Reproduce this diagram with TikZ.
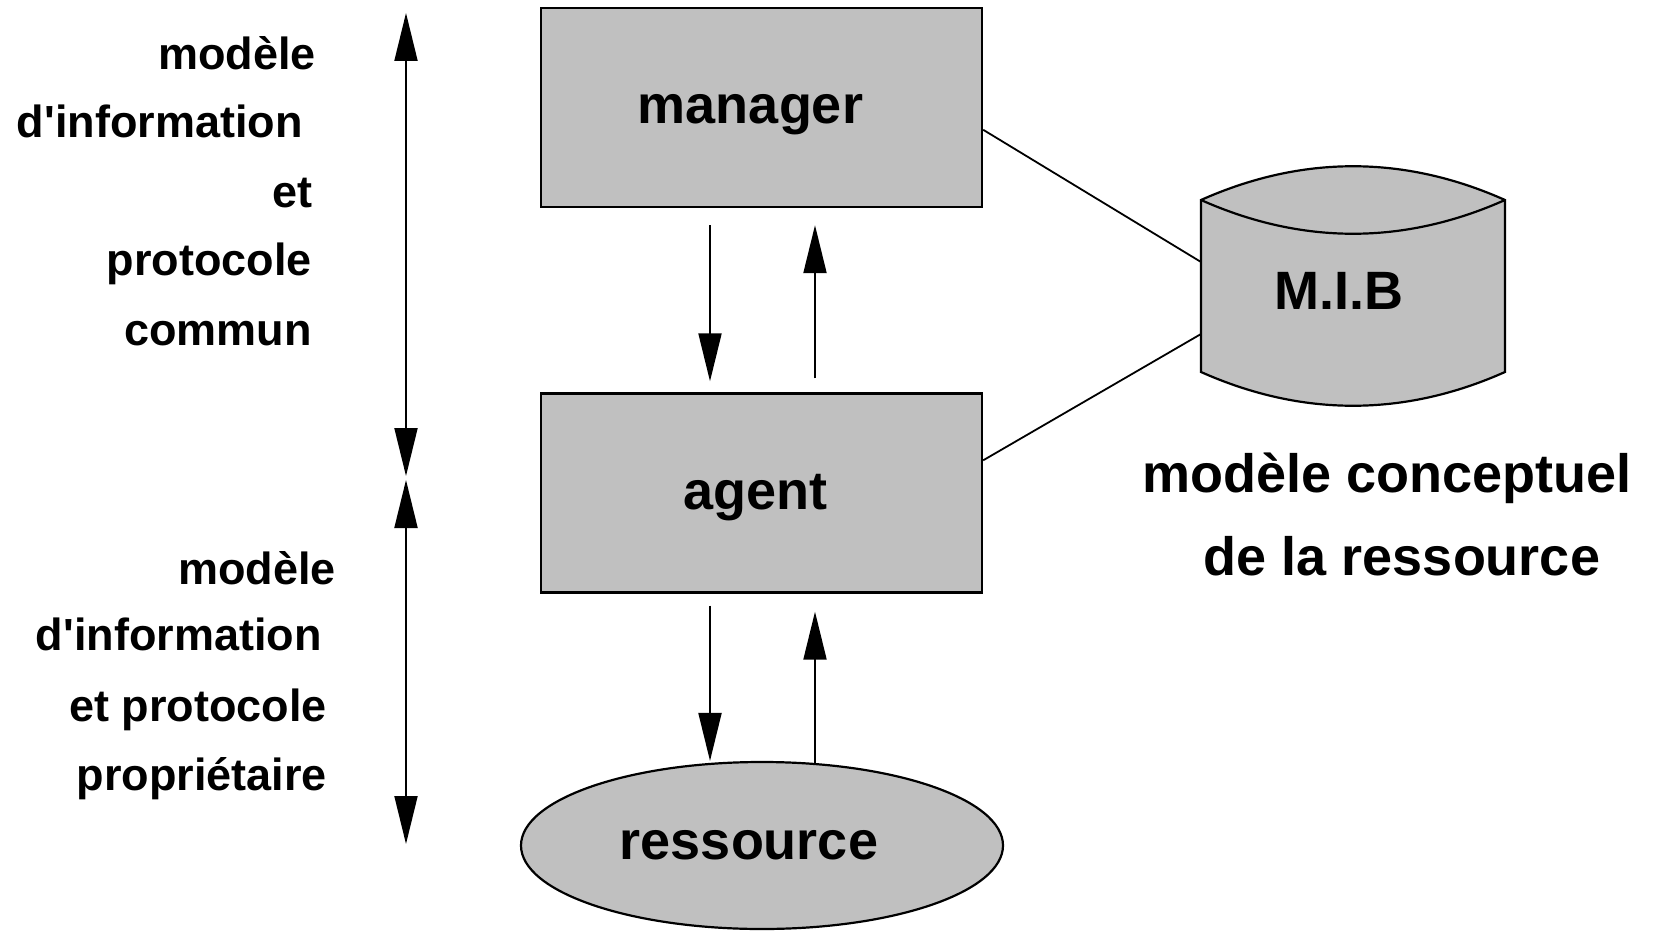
\documentclass[tikz,border=0pt]{standalone}
\usepackage{fontspec}
\setmainfont{Liberation Sans}
\usetikzlibrary{arrows.meta,calc,shapes.geometric}
\definecolor{boxgray}{RGB}{192,192,192}
\begin{document}
\begin{tikzpicture}[x=0.5pt,y=-0.5pt,
  box/.style={draw=black,line width=1.2pt,fill=boxgray,rectangle,minimum width=220.5pt,minimum height=99.5pt,inner sep=0pt},
  resnode/.style={draw=black,line width=1.1pt,fill=boxgray,ellipse,minimum width=241pt,minimum height=83.5pt,inner sep=0pt},
  boxtext/.style={inner sep=0pt,font=\fontsize{27}{32}\bfseries\selectfont},
  bigtext/.style={anchor=base,inner sep=0pt,font=\fontsize{27}{32}\bfseries\selectfont},
  sidetext/.style={anchor=base east,inner sep=0pt,font=\fontsize{22.5}{27}\bfseries\selectfont},
  arr/.style={line width=1pt,-{Triangle[length=24pt,width=11.5pt]}},
  dblarr/.style={line width=1pt,{Triangle[length=24pt,width=11.5pt]}-{Triangle[length=24pt,width=11.5pt]}},
  link/.style={line width=0.9pt}
]
\useasboundingbox (0,0) rectangle (1655,931);
\fill[white] (0,0) rectangle (1655,931);

% boxes
\node[box] (manager) at (761.5,107.5) {};
\node[box] (agent) at (761.5,493) {};
\node[resnode] (ressource) at (762,845.5) {};
\node[boxtext] (managertxt) at ($(manager.center)+(-11,7)$) {manager};
\node[boxtext] (agenttxt) at ($(agent.center)+(-6,5)$) {agent};
\node[boxtext] (ressourcetxt) at ($(ressource.center)+(-13,0)$) {ressource};

% cylinder
\draw[line width=1.1pt,fill=boxgray]
  (1201,200) .. controls (1302,155) and (1404,155) .. (1505,200)
  -- (1505,372) .. controls (1404,417) and (1302,417) .. (1201,372) -- cycle;
\draw[line width=1.1pt] (1201,200) .. controls (1302,245) and (1404,245) .. (1505,200);
\node[bigtext] (mib) at (1339,309) {M.I.B};
\coordinate (cylA) at (1201,262);
\coordinate (cylB) at (1201,334);

% links to MIB
\draw[link] ($(manager.north east)+(0,123)$) -- (cylA);
\draw[link] ($(agent.north east)+(0,68)$) -- (cylB);

% vertical arrows
\coordinate (dx) at (710,0);
\coordinate (ux) at (815,0);
\draw[arr,shorten <=8.5pt,shorten >=5.5pt] (manager.south -| dx) -- (agent.north -| dx);
\draw[arr,shorten <=7pt,shorten >=8.5pt] (agent.north -| ux) -- (manager.south -| ux);
\draw[arr,shorten <=6pt] (agent.south -| dx) -- (ressource.north -| dx);
\coordinate (rtop) at (815,764);
\draw[arr,shorten >=9pt] (rtop) -- (agent.south -| ux);

% left double arrows
\coordinate (l1) at (406,13);
\coordinate (l2) at (406,476);
\coordinate (l3) at (406,480);
\coordinate (l4) at (406,844);
\draw[dblarr] (l1) -- (l2);
\draw[dblarr] (l3) -- (l4);

% left labels upper
\node[sidetext] (u1) at (316,70) {modèle};
\node[sidetext] (u2) at (303,138) {d\textquotesingle information};
\node[sidetext] (u3) at (313,207) {et};
\node[sidetext] (u4) at (312,275) {protocole};
\node[sidetext] (u5) at (312,345) {commun};

% left labels lower
\node[sidetext] (d1) at (336,584) {modèle};
\node[sidetext] (d2) at (322,650) {d\textquotesingle information};
\node[sidetext] (d3) at (327,721) {et protocole};
\node[sidetext] (d4) at (327,790) {propriétaire};

% right labels
\node[bigtext] (r1) at (1387,492) {modèle conceptuel};
\node[bigtext] (r2) at (1402,575) {de la ressource};
\end{tikzpicture}
\end{document}
